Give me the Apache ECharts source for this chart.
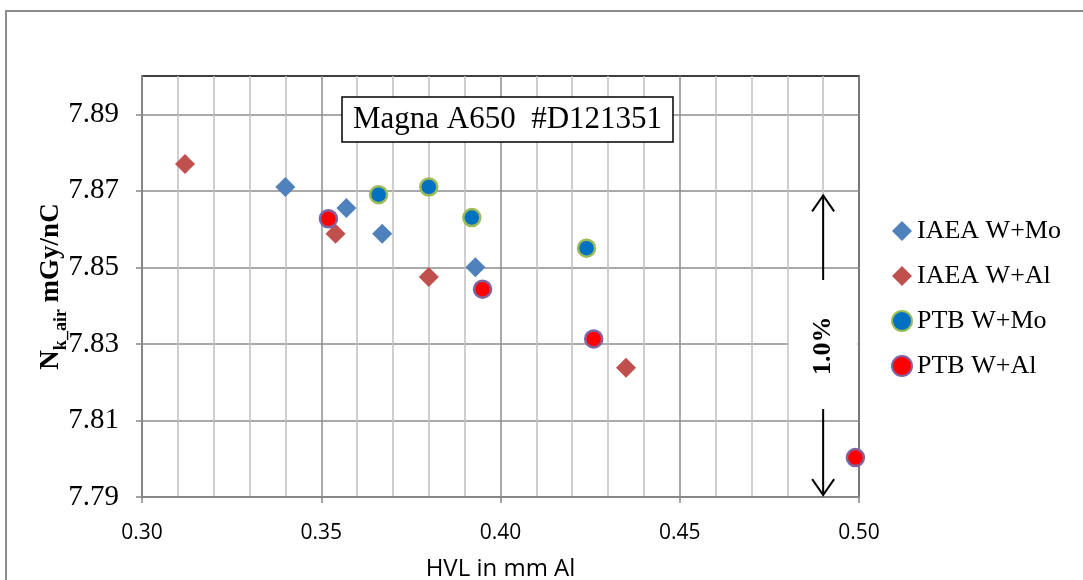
<!DOCTYPE html>
<html>
<head>
<meta charset="utf-8">
<script src="https://cdn.jsdelivr.net/npm/echarts@6/dist/echarts.min.js"></script>
<style>
html,body{margin:0;padding:0;background:#fff;}
#chart{width:1083px;height:580px;}
</style>
</head>
<body>
<div id="chart"></div>
<script>
// ---- data ----
const seriesNames = ['IAEA W+Mo', 'IAEA W+Al', 'PTB W+Mo', 'PTB W+Al'];
const hvlIaeaMo = [0.340, 0.357, 0.367, 0.393];
const nkIaeaMo  = [7.871, 7.8655, 7.8588, 7.850];
const hvlIaeaAl = [0.312, 0.354, 0.380, 0.435];
const nkIaeaAl  = [7.877, 7.8588, 7.8475, 7.8238];
const hvlPtbMo  = [0.366, 0.380, 0.392, 0.424];
const nkPtbMo   = [7.869, 7.871, 7.863, 7.855];
const hvlPtbAl  = [0.352, 0.395, 0.426, 0.499];
const nkPtbAl   = [7.8627, 7.8443, 7.8313, 7.8003];
const xTicks = [0.30, 0.35, 0.40, 0.45, 0.50];
const yTicks = [7.79, 7.81, 7.83, 7.85, 7.87, 7.89];
const titleText = 'Magna A650  #D121351';
const xName = 'HVL in mm Al';
// annotation (1.0% span) in data coordinates
const arrowX = 0.49;
const upArrow = [7.8467, 7.8688];
const downArrow = [7.8130, 7.7905];
const spanLabel = '1.0%';
const spanLabelY = 7.8295;

function pairs(xs, ys){ return xs.map((x,i)=>[x, ys[i]]); }

const chart = echarts.init(document.getElementById('chart'));
const serif = '"Liberation Serif","Times New Roman",serif';
const sans = '"Open Sans", Lato, sans-serif';

const option = {
  animation: false,
  backgroundColor: '#fff',
  title: {
    text: titleText,
    left: 342, top: 97,
    padding: [5, 11, 5, 11],
    borderColor: '#000', borderWidth: 1.5,
    backgroundColor: '#fff',
    textStyle: {fontFamily: serif, fontSize: 31, fontWeight: 'normal', color: '#000', lineHeight: 35}
  },
  grid: {
    left: 142, right: 224, top: 76, bottom: 83,
    outerBoundsMode: 'none', containLabel: false,
    show: true, borderColor: '#000', borderWidth: 1.5, backgroundColor: 'transparent'
  },
  legend: {
    orient: 'vertical',
    left: 886, top: 213,
    itemWidth: 20, itemHeight: 20, itemGap: 19,
    data: seriesNames,
    textStyle: {fontFamily: serif, fontSize: 26, color: '#000', lineHeight: 26}
  },
  xAxis: {
    type: 'value', min: 0.30, max: 0.50, interval: 0.05,
    name: xName, nameLocation: 'middle', nameGap: 60, nameMoveOverlap: false,
    nameTextStyle: {fontFamily: sans, fontSize: 24, color: '#000'},
    axisLine: {show: true, onZero: false, lineStyle: {color: '#868686', width: 2}},
    axisTick: {show: true, length: 6, lineStyle: {color: '#868686', width: 1.5}},
    axisLabel: {
      margin: 26, color: '#000', fontFamily: sans, fontSize: 21,
      formatter: v => v.toFixed(2)
    },
    splitLine: {show: true, lineStyle: {color: '#8c8c8c', width: 1.5}},
    minorTick: {show: false, splitNumber: 5},
    minorSplitLine: {show: true, lineStyle: {color: '#c0c0c0', width: 1.5}}
  },
  yAxis: {
    type: 'value', min: 7.79, max: 7.90, interval: 0.02,
    name: '{n|N}{s|k_air}{n| mGy/nC}',
    nameLocation: 'middle', nameGap: 69, nameRotate: 90, nameMoveOverlap: false,
    nameTextStyle: {
      rich: {
        n: {fontFamily: serif, fontSize: 27, fontWeight: 'bold', color: '#000', lineHeight: 44},
        s: {fontFamily: serif, fontSize: 18, fontWeight: 'bold', color: '#000', padding: [20, 0, 0, 0]}
      }
    },
    axisLine: {show: true, onZero: false, lineStyle: {color: '#868686', width: 2}},
    axisTick: {show: true, length: 6, customValues: yTicks, lineStyle: {color: '#868686', width: 1.5}},
    axisLabel: {
      margin: 23, color: '#000', fontFamily: serif, fontSize: 29,
      customValues: yTicks,
      formatter: v => Number(v).toFixed(2)
    },
    splitLine: {show: true, lineStyle: {color: '#8c8c8c', width: 1.5}}
  },
  series: [
    {
      name: seriesNames[0], type: 'scatter', symbol: 'diamond', symbolSize: 20,
      itemStyle: {color: '#4F81BD', opacity: 1},
      data: pairs(hvlIaeaMo, nkIaeaMo)
    },
    {
      name: seriesNames[1], type: 'scatter', symbol: 'diamond', symbolSize: 20,
      itemStyle: {color: '#C0504D', opacity: 1},
      data: pairs(hvlIaeaAl, nkIaeaAl)
    },
    {
      name: seriesNames[2], type: 'scatter', symbol: 'circle', symbolSize: 17,
      itemStyle: {color: '#0070C0', borderColor: '#9BBB59', borderWidth: 2.5, opacity: 1},
      data: pairs(hvlPtbMo, nkPtbMo)
    },
    {
      name: seriesNames[3], type: 'scatter', symbol: 'circle', symbolSize: 17,
      itemStyle: {color: '#FF0000', borderColor: '#8064A2', borderWidth: 2.5, opacity: 1},
      data: pairs(hvlPtbAl, nkPtbAl)
    }
  ]
};
chart.setOption(option);

// annotations: arrows and "1.0%" label, positioned through the chart's scales
function px(x, y){ return chart.convertToPixel({gridIndex: 0}, [x, y]); }
const upA = px(arrowX, upArrow[0]), upB = px(arrowX, upArrow[1]);
const dnA = px(arrowX, downArrow[0]), dnB = px(arrowX, downArrow[1]);
const lbl = px(arrowX, spanLabelY);
const gridTopLeft = px(0.48, 7.85), gridBotRight = px(0.50, 7.81);
const head = 11, headLen = 16;
chart.setOption({
  graphic: [
    {type: 'rect', silent: true, z: -10,
      shape: {x: 6, y: 11, width: 1200, height: 700},
      style: {fill: 'none', stroke: '#8c8c8c', lineWidth: 2}},
    {type: 'rect', silent: true, z: 50,
      shape: {x: gridTopLeft[0] + 1.5, y: gridTopLeft[1] + 3, width: gridBotRight[0] - gridTopLeft[0] - 3, height: gridBotRight[1] - gridTopLeft[1] - 6},
      style: {fill: '#fff'}},
    {type: 'polyline', silent: true, z: 60,
      shape: {points: [upA, upB]}, style: {stroke: '#000', lineWidth: 2, fill: 'none'}},
    {type: 'polyline', silent: true, z: 60,
      shape: {points: [[upB[0] - head, upB[1] + headLen], upB, [upB[0] + head, upB[1] + headLen]]},
      style: {stroke: '#000', lineWidth: 2, fill: 'none'}},
    {type: 'polyline', silent: true, z: 60,
      shape: {points: [dnA, dnB]}, style: {stroke: '#000', lineWidth: 2, fill: 'none'}},
    {type: 'polyline', silent: true, z: 60,
      shape: {points: [[dnB[0] - head, dnB[1] - headLen], dnB, [dnB[0] + head, dnB[1] - headLen]]},
      style: {stroke: '#000', lineWidth: 2, fill: 'none'}},
    {type: 'text', silent: true, z: 60,
      x: lbl[0], y: lbl[1], rotation: Math.PI / 2,
      style: {text: spanLabel, fill: '#000', font: 'bold 26px ' + serif, align: 'center', verticalAlign: 'middle'}}
  ]
});
</script>
</body>
</html>
